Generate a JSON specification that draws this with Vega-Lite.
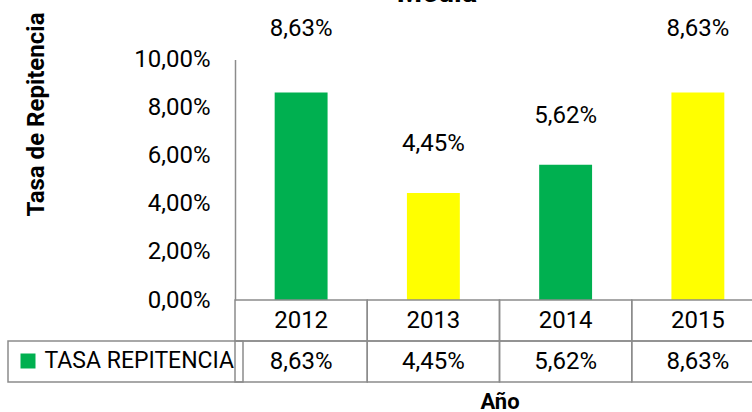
{
  "$schema": "https://vega.github.io/schema/vega-lite/v6.json",
  "width": 517,
  "height": 322.5,
  "autosize": {"type": "none"},
  "padding": {"left": 235, "top": 59.5, "right": 0, "bottom": 30},
  "background": "white",
  "title": {"text": "Media", "font": "Roboto", "fontSize": 29, "fontWeight": "bold", "color": "#000", "anchor": "middle", "frame": "group", "dx": -56.5, "dy": 0},
  "data": {"values": [
    {"year": "2012", "tasa": 0.0863},
    {"year": "2013", "tasa": 0.0445},
    {"year": "2014", "tasa": 0.0562},
    {"year": "2015", "tasa": 0.0863}
  ]},
  "resolve": {"scale": {"y": "independent"}},
  "layer": [
    {
      "layer": [
        {
          "mark": {"type": "bar"},
          "encoding": {
            "x": {"field": "year", "type": "ordinal", "title": "Año",
              "scale": {"domain": ["2012", "2013", "2014", "2015"], "range": [0, 529], "paddingInner": 0.6, "paddingOuter": 0.3},
              "axis": {"labels": false, "ticks": false, "domain": false, "grid": false, "titleFont": "Roboto", "titleFontSize": 22, "titleFontWeight": "bold", "titleColor": "#000", "titleBaseline": "alphabetic", "titleY": 26}},
            "y": {"field": "tasa", "type": "quantitative", "title": "Tasa de Repitencia",
              "scale": {"domain": [0, 0.1], "range": [240.5, 0], "nice": false, "zero": true},
              "axis": {"values": [0, 0.02, 0.04, 0.06, 0.08, 0.1], "format": ".2%", "labelFont": "Roboto", "labelFontSize": 24, "labelColor": "#000", "labelPadding": 25, "ticks": false, "grid": false, "domainColor": "#8c8c8c", "domainWidth": 1.5, "titleFont": "Roboto", "titleFontSize": 24, "titleFontWeight": "bold", "titleColor": "#000", "titleAngle": -90, "titleX": -192, "titleY": 54.5, "titleBaseline": "alphabetic", "titleAlign": "center"}},
            "color": {"field": "year", "type": "nominal",
              "scale": {"domain": ["2012", "2013", "2014", "2015"], "range": ["#00B050", "#FFFF00", "#00B050", "#FFFF00"]},
              "legend": {"orient": "none", "legendX": -227, "legendY": 281.5, "values": ["2012"], "labelExpr": "'TASA REPITENCIA'", "title": null, "symbolType": "square", "symbolSize": 225, "symbolStrokeWidth": 0, "symbolOpacity": 1, "labelFont": "Roboto", "labelFontSize": 23, "labelColor": "#000", "labelOffset": 5, "labelLimit": 300, "padding": 8.5, "strokeColor": "#8c8c8c",
                "encode": {"legend": {"update": {"strokeWidth": {"value": 1.5}}}}}}
          }
        },
        {
          "transform": [{"filter": "datum.tasa < 0.08"}],
          "mark": {"type": "text", "dy": -49, "font": "Roboto", "fontSize": 24, "color": "#000", "baseline": "middle", "align": "center"},
          "encoding": {
            "x": {"field": "year", "type": "ordinal", "title": "Año"},
            "y": {"field": "tasa", "type": "quantitative", "title": "Tasa de Repitencia"},
            "text": {"field": "tasa", "type": "quantitative", "format": ".2%"}
          }
        },
        {
          "transform": [{"filter": "datum.tasa >= 0.08"}],
          "mark": {"type": "text", "dy": -63, "font": "Roboto", "fontSize": 24, "color": "#000", "baseline": "middle", "align": "center"},
          "encoding": {
            "x": {"field": "year", "type": "ordinal", "title": "Año"},
            "y": {"field": "tasa", "type": "quantitative", "title": "Tasa de Repitencia"},
            "text": {"field": "tasa", "type": "quantitative", "format": ".2%"}
          }
        }
      ]
    },
    {
      "layer": [
        {
          "mark": {"type": "rect", "filled": false, "stroke": "#8c8c8c", "strokeWidth": 1.5, "width": {"band": 2.5}},
          "encoding": {
            "x": {"field": "year", "type": "ordinal", "title": "Año"},
            "y": {"datum": "Año", "type": "ordinal", "scale": {"type": "band", "domain": ["Año", "TASA REPITENCIA"], "range": [240.5, 322.5], "paddingInner": 0, "paddingOuter": 0}, "axis": null}
          }
        },
        {
          "mark": {"type": "rect", "filled": false, "stroke": "#8c8c8c", "strokeWidth": 1.5, "width": {"band": 2.5}},
          "encoding": {
            "x": {"field": "year", "type": "ordinal", "title": "Año"},
            "y": {"datum": "TASA REPITENCIA", "type": "ordinal", "axis": null}
          }
        },
        {
          "mark": {"type": "text", "font": "Roboto", "fontSize": 24, "color": "#000", "baseline": "middle", "align": "center"},
          "encoding": {
            "x": {"field": "year", "type": "ordinal", "title": "Año"},
            "y": {"datum": "Año", "type": "ordinal", "axis": null},
            "text": {"field": "year", "type": "nominal"}
          }
        },
        {
          "mark": {"type": "text", "font": "Roboto", "fontSize": 24, "color": "#000", "baseline": "middle", "align": "center"},
          "encoding": {
            "x": {"field": "year", "type": "ordinal", "title": "Año"},
            "y": {"datum": "TASA REPITENCIA", "type": "ordinal", "axis": null},
            "text": {"field": "tasa", "type": "quantitative", "format": ".2%"}
          }
        }
      ]
    }
  ],
  "config": {
    "view": {"stroke": null},
    "locale": {"number": {"decimal": ",", "thousands": ".", "grouping": [3], "currency": ["", " €"]}}
  }
}
